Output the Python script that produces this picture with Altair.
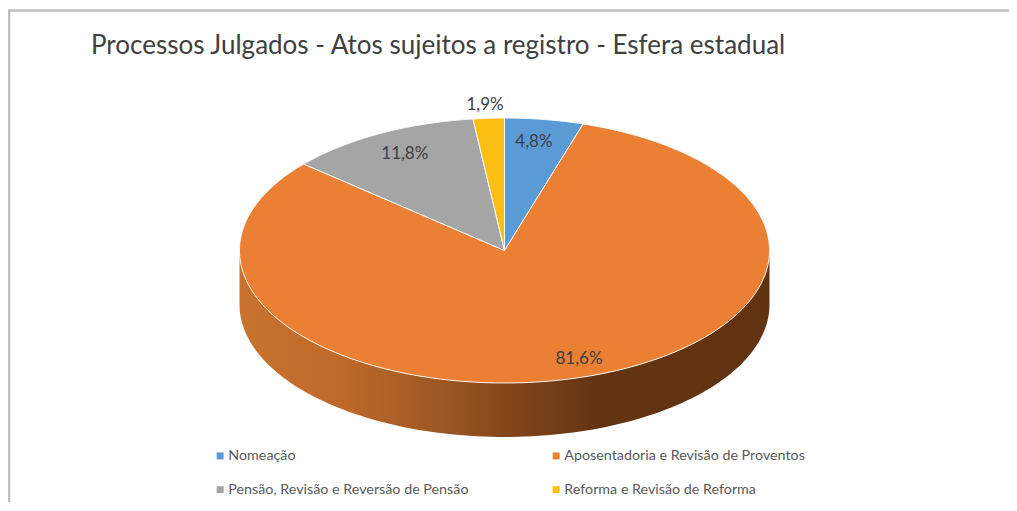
import math
import altair as alt
import pandas as pd

categorias = ["Nomeação", "Aposentadoria e Revisão de Proventos",
              "Pensão, Revisão e Reversão de Pensão", "Reforma e Revisão de Reforma"]
percentuais = [4.8, 81.6, 11.8, 1.9]
rotulos = ["4,8%", "81,6%", "11,8%", "1,9%"]
cores = ["#5B9BD5", "#EB7F33", "#A5A5A5", "#FBBF14"]
ordem_legenda = [categorias[0], categorias[2], categorias[1], categorias[3]]
titulo = "Processos Julgados - Atos sujeitos a registro - Esfera estadual"

# layout of the tilted pie (canvas pixels)
W, H = 1001, 494
CX, CY, RX, RY, DEPTH = 496.5, 242.5, 265.0, 132.5, 54.0
x_dom = [-CX / RX, (W - CX) / RX]
y_dom = [-(H - CY) / RY, CY / RY]
prof = DEPTH / RY
# label placement, as a share of the radius along each axis
lab_rx = [0.74, 1.02, 0.80, 1.23]
lab_ry = [0.836, 0.84, 0.84, 1.115]

total = sum(percentuais)
fatias, rot = [], []
acum = 0.0
for c, p, t, rx, ry in zip(categorias, percentuais, rotulos, lab_rx, lab_ry):
    a0 = acum / total * 2 * math.pi
    a1 = (acum + p) / total * 2 * math.pi
    n = max(4, int(p * 4))
    fatias.append({"cat": c, "i": 0, "x": 0.0, "y": 0.0})
    for k in range(n + 1):
        a = a0 + (a1 - a0) * k / n
        fatias.append({"cat": c, "i": k + 1, "x": math.sin(a), "y": math.cos(a)})
    fatias.append({"cat": c, "i": n + 2, "x": 0.0, "y": 0.0})
    m = (a0 + a1) / 2
    rot.append({"t": t, "x": rx * math.sin(m), "y": ry * math.cos(m)})
    acum += p

parede = []
N = 120
for k in range(N + 1):
    a = math.pi * k / N
    parede.append({"i": k, "x": math.cos(a), "y": -math.sin(a)})
for k in range(N + 1):
    a = math.pi * (1 - k / N)
    parede.append({"i": N + 1 + k, "x": math.cos(a), "y": -math.sin(a) - prof})
parede.append(dict(parede[0], i=2 * N + 2))

X = alt.X("x:Q", scale=alt.Scale(domain=x_dom, nice=False, zero=False), axis=None)
Y = alt.Y("y:Q", scale=alt.Scale(domain=y_dom, nice=False, zero=False), axis=None)

grad = alt.Gradient(
    gradient="linear", x1=0, x2=1, y1=0, y2=0,
    stops=[
        alt.GradientStop(offset=0.0, color="#C9732E"),
        alt.GradientStop(offset=0.2, color="#BD692A"),
        alt.GradientStop(offset=0.4, color="#9A5522"),
        alt.GradientStop(offset=0.5, color="#84471A"),
        alt.GradientStop(offset=0.68, color="#633412"),
        alt.GradientStop(offset=1.0, color="#623311"),
    ],
)

wall = alt.Chart(pd.DataFrame(parede)).mark_line(fill=grad, strokeWidth=0, interpolate="linear").encode(
    x=X, y=Y, order="i:Q")

pie = alt.Chart(pd.DataFrame(fatias)).mark_line(stroke="#FFFFFF", strokeWidth=0.9).encode(
    x=X, y=Y, order="i:Q",
    fill=alt.Fill("cat:N",
                  scale=alt.Scale(domain=ordem_legenda,
                                  range=[cores[categorias.index(c)] for c in ordem_legenda]),
                  legend=alt.Legend(
                      title=None, orient="none", legendX=205, legendY=440.5, columns=2,
                      symbolType="square", symbolSize=49, symbolStrokeWidth=0,
                      labelFont="Lato", labelFontSize=14.3, labelColor="#595959",
                      columnPadding=80, rowPadding=19, labelOffset=1, labelLimit=400)),
)

labels = alt.Chart(pd.DataFrame(rot)).mark_text(
    font="Lato", fontSize=17, color="#404040", dy=1.5).encode(x=X, y=Y, text="t:N")

frame_top = alt.Chart(pd.DataFrame({"a": [0]})).mark_rule(color="#BFBFBF", strokeWidth=2.5).encode(
    x=alt.value(0), x2=alt.value(W), y=alt.value(2.5))
frame_left = alt.Chart(pd.DataFrame({"a": [0]})).mark_rule(color="#BFBFBF", strokeWidth=2.5).encode(
    x=alt.value(1), y=alt.value(2), y2=alt.value(H))

chart = alt.layer(frame_top, frame_left, wall, pie, labels).properties(
    width=W, height=H,
    padding=0,
    autosize=alt.AutoSizeParams(type="none"),
    background="#FFFFFF",
    title=alt.TitleParams(titulo, anchor="start", frame="group", font="Lato", fontSize=26,
                          fontWeight="normal", color="#404040", dx=83, dy=72, offset=0,
                          baseline="alphabetic"),
).configure_view(stroke=None)

chart.save("out.html", embed_options={"renderer": "svg", "actions": False})
